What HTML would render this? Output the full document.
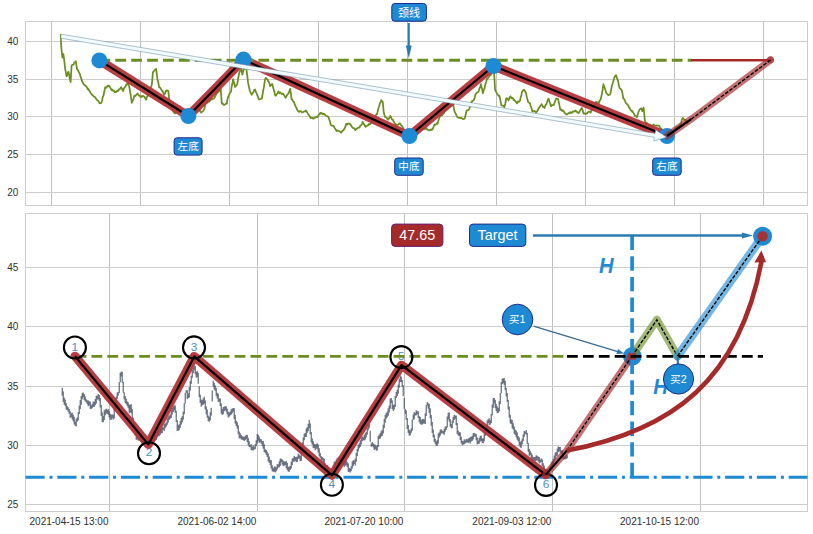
<!DOCTYPE html>
<html><head><meta charset="utf-8"><title>chart</title>
<style>html,body{margin:0;padding:0;background:#fff;overflow:hidden}svg{display:block}</style></head>
<body>
<svg width="813" height="534" viewBox="0 0 813 534" style="display:block">
<rect width="813" height="534" fill="#fff"/>
<g stroke="#cccccc" stroke-width="1" fill="none" shape-rendering="crispEdges">
<line x1="51.5" y1="21.5" x2="51.5" y2="205.3" stroke="#c0c0c0"/>
<line x1="140.5" y1="21.5" x2="140.5" y2="205.3" stroke="#c0c0c0"/>
<line x1="229.6" y1="21.5" x2="229.6" y2="205.3" stroke="#c0c0c0"/>
<line x1="318.6" y1="21.5" x2="318.6" y2="205.3" stroke="#c0c0c0"/>
<line x1="407.6" y1="21.5" x2="407.6" y2="205.3" stroke="#c0c0c0"/>
<line x1="496.6" y1="21.5" x2="496.6" y2="205.3" stroke="#c0c0c0"/>
<line x1="585.7" y1="21.5" x2="585.7" y2="205.3" stroke="#c0c0c0"/>
<line x1="674.7" y1="21.5" x2="674.7" y2="205.3" stroke="#c0c0c0"/>
<line x1="763.7" y1="21.5" x2="763.7" y2="205.3" stroke="#c0c0c0"/>
<line x1="25.5" y1="41.3" x2="807.5" y2="41.3"/>
<line x1="25.5" y1="79.0" x2="807.5" y2="79.0"/>
<line x1="25.5" y1="116.8" x2="807.5" y2="116.8"/>
<line x1="25.5" y1="154.5" x2="807.5" y2="154.5"/>
<line x1="25.5" y1="192.2" x2="807.5" y2="192.2"/>
<rect x="25.5" y="21.5" width="782.0" height="183.8"/>
</g>
<text x="18.4" y="44.9" text-anchor="end" font-family='"Liberation Sans", sans-serif' font-size="10" fill="#303030">40</text>
<text x="18.4" y="82.6" text-anchor="end" font-family='"Liberation Sans", sans-serif' font-size="10" fill="#303030">35</text>
<text x="18.4" y="120.3" text-anchor="end" font-family='"Liberation Sans", sans-serif' font-size="10" fill="#303030">30</text>
<text x="18.4" y="158.1" text-anchor="end" font-family='"Liberation Sans", sans-serif' font-size="10" fill="#303030">25</text>
<text x="18.4" y="195.8" text-anchor="end" font-family='"Liberation Sans", sans-serif' font-size="10" fill="#303030">20</text>
<polyline points="60.7,34.3 61.3,47.2 61.6,50.5 62.4,57.7 62.5,57.6 63.4,54.0 64.3,61.1 64.8,65.5 65.2,69.1 66.1,73.7 66.5,76.1 67.0,75.9 67.9,72.8 68.5,71.8 68.8,72.9 69.7,78.0 70.6,82.1 71.5,67.1 71.6,65.7 72.4,64.8 73.3,64.7 73.7,64.4 74.2,62.7 75.1,62.3 75.7,61.1 76.0,62.7 76.8,67.5 76.9,68.9 77.8,69.9 78.7,71.8 79.6,73.6 79.8,73.7 80.5,76.4 81.4,78.7 81.9,81.1 82.3,81.2 83.2,83.4 84.1,84.8 85.0,85.1 85.9,86.1 86.8,87.1 87.7,89.1 88.1,88.7 88.6,89.8 89.5,90.8 90.4,92.7 91.2,93.8 91.3,93.8 92.2,94.9 93.1,95.5 94.0,96.7 94.9,97.0 95.3,97.6 95.8,98.2 96.7,99.7 97.6,100.5 98.5,101.0 99.4,103.3 100.3,103.2 101.2,102.9 101.5,102.3 102.1,100.4 103.0,96.4 103.5,95.5 103.9,93.4 104.8,89.2 105.2,87.1 105.7,88.0 106.6,87.7 107.5,85.8 108.4,86.3 108.7,85.6 109.3,86.0 110.2,87.4 111.1,89.3 111.8,90.4 112.0,89.3 112.9,90.7 113.8,90.5 114.7,92.2 114.8,91.6 115.6,92.1 116.5,91.8 117.4,90.6 118.3,90.9 119.0,89.5 119.2,89.0 120.1,88.8 121.0,87.1 121.9,88.7 122.8,90.3 123.1,91.1 123.7,89.2 124.6,87.2 125.5,86.7 126.2,84.4 126.4,85.1 127.3,83.9 127.8,82.4 128.2,83.7 129.1,86.3 129.3,87.0 130.0,91.0 130.7,95.1 130.9,96.5 131.8,102.8 131.9,102.8 132.7,100.5 133.6,98.5 134.4,95.6 134.5,95.6 135.4,96.1 136.3,94.8 137.2,94.3 137.5,93.3 138.1,94.5 139.0,95.6 139.9,95.6 140.6,97.2 140.8,97.1 141.7,96.0 142.6,96.5 143.5,96.0 143.7,96.3 144.4,96.7 145.3,98.5 146.2,99.7 146.3,98.8 147.1,96.7 148.0,95.3 148.8,93.6 148.9,92.3 149.8,90.2 150.7,88.0 151.6,85.2 151.9,84.5 152.5,77.0 152.9,72.1 153.4,71.9 154.3,70.4 155.2,69.5 156.0,69.2 156.1,68.8 157.0,75.8 157.4,78.9 157.9,80.7 158.8,84.9 159.1,87.3 159.7,87.2 160.6,88.3 161.5,89.9 162.2,91.2 162.4,90.7 163.3,92.9 164.2,94.8 165.1,93.0 165.7,90.8 166.0,91.4 166.9,90.4 167.8,90.7 168.4,91.1 168.7,94.6 169.4,101.1 169.6,101.4 170.5,103.9 171.0,106.0 171.4,106.4 172.3,109.3 173.2,111.4 174.1,112.4 174.4,113.2 175.0,113.4 175.9,112.3 176.8,111.6 177.7,110.1 178.0,109.4 178.6,110.3 179.5,111.9 180.4,112.1 181.3,113.1 182.0,113.9 182.2,114.0 183.1,114.7 184.0,116.1 184.9,115.7 185.8,116.1 186.0,117.7 186.7,116.9 187.6,116.1 188.5,114.4 189.4,114.3 190.0,113.6 190.3,112.8 191.2,114.3 192.1,115.1 193.0,115.5 193.9,116.0 194.0,115.7 194.8,114.2 195.7,112.2 196.6,110.2 197.5,109.1 198.0,107.7 198.4,109.0 199.3,109.1 200.2,111.5 201.0,112.3 201.1,112.6 202.0,111.8 202.9,111.1 203.8,109.9 204.3,108.7 204.7,107.7 205.3,103.8 205.6,103.7 206.5,103.5 207.4,102.6 208.3,101.7 209.2,101.7 210.1,100.4 211.0,99.3 211.5,98.7 211.9,99.5 212.8,98.6 213.7,98.7 214.5,97.8 214.6,97.3 215.5,95.7 216.4,94.0 216.6,92.5 217.3,92.7 218.2,92.0 219.1,90.9 220.0,90.0 220.7,88.1 220.9,91.6 221.8,103.7 222.7,103.5 223.6,104.7 223.8,105.0 224.5,104.9 225.4,104.1 226.3,103.6 226.9,103.6 227.2,100.9 227.9,97.4 228.1,97.1 229.0,95.0 229.9,92.8 230.8,92.1 231.0,91.4 231.7,86.5 232.6,82.2 233.1,79.2 233.5,80.7 234.4,84.0 235.1,87.0 235.3,86.7 236.2,85.5 237.1,84.3 237.2,84.4 238.0,79.4 238.9,74.7 239.3,72.6 239.8,71.4 240.7,69.6 241.3,68.8 241.6,70.6 242.3,74.6 242.5,74.1 243.4,70.2 244.0,68.7 244.3,68.5 245.2,68.6 246.1,68.9 246.5,69.3 247.0,73.8 247.9,80.8 248.1,82.9 248.8,86.1 249.5,89.4 249.7,90.3 250.6,92.8 251.5,94.1 251.6,94.9 252.4,93.3 253.3,92.3 253.7,91.6 254.2,90.0 255.1,89.4 256.0,92.2 256.7,93.6 256.9,94.4 257.8,96.1 258.7,99.3 258.8,99.3 259.6,99.4 260.5,99.0 261.4,98.5 261.9,98.5 262.3,96.0 263.2,90.5 264.0,86.9 264.1,85.4 265.0,80.1 265.4,78.5 265.9,77.9 266.8,78.8 267.7,79.6 268.1,81.2 268.6,81.4 269.5,83.5 270.1,86.2 270.4,84.8 271.3,85.1 272.2,84.0 273.1,87.4 274.0,90.9 274.2,91.0 274.9,94.6 275.3,95.3 275.8,95.7 276.7,94.2 277.6,93.3 278.4,91.3 278.5,92.3 279.4,93.2 280.0,92.2 280.3,92.7 281.2,93.4 282.1,94.2 283.0,93.6 283.9,94.9 284.8,96.3 285.4,97.8 285.7,97.6 286.6,95.9 287.5,94.6 288.4,93.5 288.5,93.3 289.3,91.4 290.2,88.8 291.1,95.4 291.6,99.4 292.0,99.2 292.9,101.2 293.8,101.8 294.7,104.1 295.6,106.3 296.5,108.2 297.4,110.1 297.8,111.0 298.3,111.3 299.2,111.9 300.1,111.0 301.0,111.2 301.9,112.4 302.8,112.4 303.7,111.6 304.6,111.3 305.5,111.5 306.0,110.5 306.4,111.3 307.3,112.5 308.2,114.5 309.1,115.4 310.0,116.6 310.1,117.5 310.9,118.1 311.8,117.4 312.7,118.3 313.2,118.1 313.6,118.6 314.5,118.0 315.4,117.3 316.3,117.0 317.2,116.5 317.3,117.2 318.1,116.0 319.0,114.5 319.9,113.6 320.4,112.8 320.8,113.6 321.7,112.9 322.6,114.4 323.5,113.8 324.4,114.2 324.5,114.1 325.3,115.2 326.2,115.8 327.1,116.1 328.0,116.7 328.7,117.5 328.9,118.5 329.8,121.0 330.7,124.8 331.6,125.7 332.5,125.6 333.4,125.8 333.8,126.1 334.3,127.5 335.2,128.6 336.1,130.2 336.9,131.1 337.0,130.3 337.9,130.5 338.8,131.0 339.7,131.2 340.6,132.4 341.0,132.7 341.5,132.4 342.4,130.6 343.3,130.7 344.1,129.2 344.2,129.1 345.1,127.4 346.0,124.3 346.2,123.8 346.9,124.7 347.8,123.6 348.7,123.4 349.3,123.5 349.6,124.1 350.5,124.3 351.4,126.0 352.3,127.4 353.2,128.1 354.1,128.2 355.0,129.4 355.4,130.2 355.9,129.1 356.8,128.9 357.7,127.8 358.6,127.6 359.5,127.7 360.4,125.4 361.3,125.1 362.2,123.6 362.6,121.7 363.1,123.6 364.0,124.0 364.9,125.8 365.7,126.9 365.8,126.1 366.7,126.1 367.6,125.4 368.5,125.1 368.8,124.0 369.4,124.4 370.3,124.1 371.2,123.0 371.9,122.4 372.1,121.3 373.0,120.1 373.9,118.1 374.8,116.9 375.0,116.5 375.7,115.6 376.6,114.0 377.0,114.3 377.5,112.3 378.4,108.2 379.1,106.5 379.3,105.6 380.2,102.6 381.1,101.6 381.2,100.2 382.0,101.0 382.8,102.1 382.9,103.1 383.7,112.1 383.8,112.6 384.7,115.7 385.1,116.9 385.6,117.1 386.5,117.5 387.4,119.1 388.2,119.7 388.3,119.2 389.2,118.2 390.1,116.3 390.3,115.8 391.0,117.2 391.9,119.4 392.8,119.6 393.4,121.3 393.7,121.3 394.6,123.3 395.5,123.9 396.4,125.0 396.5,125.3 397.3,124.9 398.2,124.7 399.1,123.5 399.6,123.9 400.0,123.4 400.9,124.8 401.8,125.8 402.7,127.0 403.0,128.4 403.6,129.3 404.5,130.0 405.4,131.5 406.0,132.9 406.3,133.6 407.2,134.3 408.1,134.9 409.0,135.3 409.8,135.2 409.9,135.4 410.8,133.8 411.7,133.0 412.6,131.7 413.0,130.6 413.5,131.0 414.4,132.5 415.3,132.0 416.2,133.9 417.0,134.6 417.1,134.5 418.0,132.6 418.9,131.7 419.8,130.6 420.7,129.6 421.0,129.7 421.6,129.2 422.5,128.6 423.4,129.3 424.3,128.7 425.2,128.8 426.1,128.9 426.3,127.8 427.0,129.4 427.9,129.8 428.8,130.2 429.4,130.6 429.7,130.4 430.6,129.7 431.5,129.9 432.4,128.8 432.5,129.5 433.3,127.7 434.2,125.1 434.5,124.5 435.1,124.9 436.0,124.5 436.9,123.1 437.6,123.8 437.8,123.0 438.7,119.5 439.6,117.3 439.7,116.8 440.5,115.8 441.4,115.6 442.3,115.2 442.8,113.8 443.2,114.1 444.1,112.7 445.0,110.7 445.9,110.7 446.0,110.2 446.8,109.8 447.7,108.6 448.6,107.8 449.0,106.8 449.5,107.1 450.4,106.6 451.3,105.7 452.2,104.4 453.1,104.2 454.0,109.0 454.5,111.4 454.9,112.1 455.8,113.9 456.7,115.8 457.2,116.7 457.6,117.3 458.5,117.8 459.4,117.8 460.3,117.8 461.2,118.4 461.3,117.9 462.1,118.4 463.0,119.2 463.9,119.0 464.4,118.8 464.8,118.3 465.7,114.5 466.5,110.8 466.6,110.7 467.5,110.4 468.4,109.9 469.3,108.7 469.5,108.3 470.2,106.2 471.1,103.9 471.6,101.3 472.0,101.5 472.9,100.7 473.7,100.3 473.8,99.9 474.7,97.5 475.6,94.3 475.7,93.8 476.5,93.1 477.4,92.4 478.3,92.0 478.8,90.8 479.2,89.4 480.1,87.0 480.9,84.2 481.0,85.1 481.9,88.2 482.8,92.9 482.9,93.3 483.7,90.0 484.6,88.4 485.0,85.9 485.5,83.9 486.4,81.2 487.0,78.6 487.3,79.0 488.2,77.7 489.1,76.5 490.0,75.1 490.9,74.8 491.2,73.7 491.8,73.5 492.7,71.6 493.2,71.5 493.6,72.0 494.1,73.6 494.5,79.8 495.1,89.9 495.4,90.3 496.3,92.1 497.2,93.9 498.1,95.2 499.0,96.1 499.3,95.7 499.9,97.9 500.8,102.6 501.3,105.3 501.7,105.5 502.6,105.6 503.5,105.9 504.4,107.1 505.3,103.5 506.2,98.5 506.5,98.3 507.1,98.2 508.0,99.6 508.5,100.3 508.9,99.8 509.8,97.1 510.6,96.3 510.7,96.9 511.6,98.3 512.5,97.9 513.4,99.1 513.7,100.2 514.3,99.7 515.2,101.0 516.1,101.9 516.8,103.1 517.0,103.3 517.9,101.5 518.8,101.8 519.7,101.1 519.8,101.2 520.6,97.7 521.5,94.7 521.9,92.3 522.4,91.6 523.3,90.0 524.0,89.8 524.2,89.8 525.1,91.3 526.0,93.0 526.9,97.4 527.8,100.8 528.1,102.1 528.7,102.2 529.6,103.3 530.1,103.3 530.5,105.5 531.4,107.5 532.2,111.0 532.3,111.4 533.2,111.5 534.1,110.9 535.0,111.3 535.9,112.4 536.3,112.2 536.8,111.7 537.7,110.3 538.6,108.1 539.4,107.5 539.5,107.1 540.4,105.7 541.3,104.8 541.5,104.2 542.2,105.4 543.1,107.1 544.0,106.8 544.5,108.0 544.9,106.5 545.8,104.7 546.6,104.0 546.7,103.2 547.6,100.7 548.5,98.7 548.7,98.9 549.4,101.3 550.3,103.7 550.7,105.5 551.2,106.4 552.1,105.0 553.0,105.2 553.8,104.7 553.9,104.9 554.8,102.1 555.7,99.7 555.9,98.8 556.6,98.5 557.5,98.9 558.3,99.1 558.4,100.7 559.3,104.6 560.0,108.3 560.2,109.8 561.1,109.3 562.0,110.9 562.9,110.2 563.1,110.9 563.8,111.3 564.7,113.1 565.6,113.7 566.2,114.3 566.5,114.4 567.4,114.3 568.3,113.2 569.2,113.3 569.3,113.0 570.1,112.2 571.0,113.0 571.9,112.3 572.3,112.5 572.8,111.4 573.7,111.6 574.6,111.2 575.4,111.3 575.5,110.4 576.4,111.4 577.3,112.3 578.2,112.3 578.5,113.2 579.1,112.4 580.0,110.5 580.9,109.3 581.6,108.1 581.8,108.0 582.7,110.4 583.6,113.6 583.7,112.9 584.5,113.6 585.4,113.7 585.7,114.1 586.3,113.3 587.2,113.5 588.1,112.1 588.8,111.6 589.0,111.8 589.9,111.7 590.8,112.6 590.9,112.1 591.7,110.2 592.6,109.2 592.9,108.5 593.5,107.4 594.4,104.9 595.3,103.6 596.0,101.7 596.2,102.6 597.1,102.8 598.0,102.1 598.9,103.4 599.1,102.3 599.8,100.5 600.7,99.2 601.2,97.3 601.6,95.3 602.5,90.3 603.4,84.2 603.5,84.7 604.3,86.5 605.2,89.5 605.8,91.3 606.1,92.4 607.0,93.9 607.9,94.8 608.2,95.0 608.8,95.0 609.7,94.7 610.3,93.9 610.6,92.3 611.5,88.0 611.9,85.6 612.4,84.3 613.3,81.2 614.0,78.7 614.2,77.7 615.1,76.2 616.0,75.2 616.1,75.3 616.9,77.8 617.8,80.4 618.1,81.0 618.7,84.6 619.6,88.1 620.5,88.8 621.4,89.9 621.6,89.9 622.3,92.9 623.1,97.2 623.2,98.3 624.1,98.9 625.0,100.8 625.7,102.8 625.9,103.1 626.8,103.8 627.7,104.8 628.6,106.2 628.8,107.3 629.5,107.8 630.4,109.7 631.3,110.6 631.9,111.7 632.2,110.8 633.1,112.5 634.0,113.8 634.9,115.9 635.0,116.0 635.8,115.9 636.7,117.1 637.1,116.6 637.6,115.1 638.5,111.8 639.1,110.5 639.4,109.7 640.3,109.1 641.2,108.3 642.1,110.7 642.2,111.2 643.0,108.9 643.6,107.5 643.9,110.7 644.8,119.8 644.9,120.8 645.7,122.3 646.6,123.1 647.0,123.0 647.5,123.9 648.4,124.2 649.3,124.6 650.0,125.0 650.2,124.7 651.1,125.4 652.0,125.5 652.9,125.2 653.5,124.4 653.8,124.7 654.7,125.4 655.6,125.5 656.5,125.5 656.6,125.3 657.4,125.7 658.3,125.5 659.2,125.8 659.7,126.8 660.1,127.8 661.0,128.4 661.8,129.4 661.9,129.4 662.8,131.0 663.7,133.0 664.0,132.9 664.6,134.3 665.5,134.0 666.4,135.1 667.0,136.0 667.3,135.7 668.2,135.7 669.1,135.1 670.0,134.6 670.9,133.3 671.8,131.5 672.7,131.4 673.0,131.1 673.6,130.4 674.5,129.2 675.4,128.9 676.0,128.6 676.3,127.2 677.2,127.5 678.1,126.4 679.0,126.0 679.9,125.1 680.8,123.8 681.3,122.5 681.7,120.2 682.3,118.8 682.6,117.9 683.5,118.7 684.4,119.8 685.3,119.9 686.2,120.7 687.1,122.6 687.5,123.0 688.0,121.7 688.9,121.1 690.0,120.2" fill="none" stroke="#6b8e23" stroke-width="1.75" stroke-linejoin="round"/>
<polyline points="99.4,60.4 188.4,116.0 243.5,59.6 409.4,136.0 493.5,66.0 667.0,136.0" fill="none" stroke="#b5343a" stroke-opacity="0.95" stroke-width="9" stroke-linejoin="round" stroke-linecap="round"/>
<polyline points="99.4,60.4 188.4,116.0 243.5,59.6 409.4,136.0 493.5,66.0 667.0,136.0" fill="none" stroke="#000" stroke-width="2.2" stroke-linejoin="round"/>
<line x1="99.4" y1="60.3" x2="691.5" y2="60.3" stroke="#6b8e23" stroke-width="2.9" stroke-dasharray="10.8 5.1"/>
<line x1="691" y1="60.3" x2="769" y2="60.3" stroke="#a52a2a" stroke-width="2.6"/>
<circle cx="99.4" cy="60.4" r="8" fill="#1f8ad4"/>
<circle cx="188.4" cy="116.0" r="8" fill="#1f8ad4"/>
<circle cx="243.5" cy="59.6" r="8" fill="#1f8ad4"/>
<circle cx="409.4" cy="136.0" r="8" fill="#1f8ad4"/>
<circle cx="493.5" cy="66.0" r="8" fill="#1f8ad4"/>
<circle cx="667.0" cy="136.0" r="8" fill="#1f8ad4"/>
<polyline points="667,136 691.2,119.2 770.5,60" fill="none" stroke="#a52a2a" stroke-opacity="0.66" stroke-width="7" stroke-linecap="round" stroke-linejoin="round"/>
<circle cx="770.5" cy="59.8" r="3.6" fill="#a52a2a" fill-opacity="0.6"/>
<line x1="667" y1="136" x2="691.2" y2="119.2" stroke="#000" stroke-width="2.2"/>
<line x1="691.2" y1="119.2" x2="770.5" y2="60" stroke="#000" stroke-width="1.4" stroke-dasharray="3.7 1.6"/>
<polygon points="60.7,38.2 654.4,137.3 653.8,140.9 666.6,137.3 655.7,129.7 655.1,133.4 61.3,34.2" fill="#f3fafd" stroke="#5a87a0" stroke-width="0.5"/>
<rect x="391.800" y="3.500" width="34.600" height="17.700" rx="3" fill="#1f8ad4" stroke="#1f2a8c" stroke-width="1"/>
<text x="398.100" y="16.680" font-family='"Liberation Sans", "Noto Sans CJK SC", sans-serif' font-size="11" fill="#fff">颈线</text>
<rect x="174.100" y="137.800" width="28.000" height="17.300" rx="3" fill="#1f8ad4" stroke="#1f2a8c" stroke-width="1"/>
<text x="177.600" y="149.630" font-family='"Liberation Sans", "Noto Sans CJK SC", sans-serif' font-size="10.6" fill="#fff">左底</text>
<rect x="394.700" y="158.000" width="28.500" height="17.300" rx="3" fill="#1f8ad4" stroke="#1f2a8c" stroke-width="1"/>
<text x="398.300" y="170.030" font-family='"Liberation Sans", "Noto Sans CJK SC", sans-serif' font-size="10.6" fill="#fff">中底</text>
<rect x="652.700" y="158.000" width="28.500" height="17.300" rx="3" fill="#1f8ad4" stroke="#1f2a8c" stroke-width="1"/>
<text x="656.300" y="170.030" font-family='"Liberation Sans", "Noto Sans CJK SC", sans-serif' font-size="10.6" fill="#fff">右底</text>
<line x1="408.8" y1="23" x2="408.8" y2="47" stroke="#2b7bb0" stroke-width="2"/>
<polygon points="405.9,45.6 411.7,45.6 408.8,58.4" fill="#2b7bb0"/>
<g stroke="#cccccc" stroke-width="1" fill="none" shape-rendering="crispEdges">
<line x1="109.5" y1="213.2" x2="109.5" y2="511.2" stroke="#c0c0c0"/>
<line x1="257.4" y1="213.2" x2="257.4" y2="511.2" stroke="#c0c0c0"/>
<line x1="404.4" y1="213.2" x2="404.4" y2="511.2" stroke="#c0c0c0"/>
<line x1="552.3" y1="213.2" x2="552.3" y2="511.2" stroke="#c0c0c0"/>
<line x1="700.0" y1="213.2" x2="700.0" y2="511.2" stroke="#c0c0c0"/>
<line x1="25.5" y1="267.4" x2="807.5" y2="267.4"/>
<line x1="25.5" y1="326.7" x2="807.5" y2="326.7"/>
<line x1="25.5" y1="386.0" x2="807.5" y2="386.0"/>
<line x1="25.5" y1="445.3" x2="807.5" y2="445.3"/>
<line x1="25.5" y1="504.6" x2="807.5" y2="504.6"/>
<rect x="25.5" y="213.2" width="782.0" height="298.0"/>
</g>
<text x="18.4" y="271.0" text-anchor="end" font-family='"Liberation Sans", sans-serif' font-size="10" fill="#303030">45</text>
<text x="18.4" y="330.3" text-anchor="end" font-family='"Liberation Sans", sans-serif' font-size="10" fill="#303030">40</text>
<text x="18.4" y="389.6" text-anchor="end" font-family='"Liberation Sans", sans-serif' font-size="10" fill="#303030">35</text>
<text x="18.4" y="448.9" text-anchor="end" font-family='"Liberation Sans", sans-serif' font-size="10" fill="#303030">30</text>
<text x="18.4" y="508.2" text-anchor="end" font-family='"Liberation Sans", sans-serif' font-size="10" fill="#303030">25</text>
<text x="108.5" y="525" text-anchor="end" font-family='"Liberation Sans", sans-serif' font-size="10" fill="#303030">2021-04-15 13:00</text>
<text x="256.4" y="525" text-anchor="end" font-family='"Liberation Sans", sans-serif' font-size="10" fill="#303030">2021-06-02 14:00</text>
<text x="403.4" y="525" text-anchor="end" font-family='"Liberation Sans", sans-serif' font-size="10" fill="#303030">2021-07-20 10:00</text>
<text x="551.3" y="525" text-anchor="end" font-family='"Liberation Sans", sans-serif' font-size="10" fill="#303030">2021-09-03 12:00</text>
<text x="699.0" y="525" text-anchor="end" font-family='"Liberation Sans", sans-serif' font-size="10" fill="#303030">2021-10-15 12:00</text>
<path d="M62.20,387.7V395.8M63.20,391.4V401.9M64.20,397.6V404.7M65.20,399.6V406.1M66.20,403.2V409.7M67.20,406.1V409.9M68.20,407.4V411.8M69.20,409.0V413.8M70.20,411.5V417.9M71.20,413.3V417.2M72.20,412.7V419.4M73.20,414.7V421.4M74.20,416.9V424.4M75.20,421.5V426.0M76.20,418.8V426.3M77.20,417.5V421.5M78.20,412.0V420.4M79.20,405.5V414.1M80.20,400.1V409.1M81.20,396.1V404.8M82.20,393.0V399.3M83.20,392.5V397.3M84.20,394.0V400.2M85.20,396.5V401.3M86.20,399.2V402.4M87.20,400.4V404.2M88.20,400.3V406.2M89.20,401.3V405.3M90.20,401.6V408.9M91.20,405.2V408.9M92.20,403.9V408.1M93.20,401.6V406.9M94.20,401.7V407.0M95.20,399.0V405.3M96.20,395.8V403.7M97.20,395.6V399.6M98.20,394.1V399.4M99.20,394.9V400.9M100.20,398.1V407.6M101.20,405.0V416.0M102.20,412.4V422.0M103.20,416.1V422.3M104.20,410.3V420.0M105.20,409.4V415.3M106.20,408.6V413.5M107.20,409.9V413.8M108.20,408.8V414.7M109.20,411.1V417.3M110.20,413.8V419.7M111.20,414.7V419.8M112.20,414.4V418.2M113.20,414.8V419.7M114.20,407.5V418.5M115.20,403.2V410.9M116.20,396.5V405.7M117.20,392.6V398.8M118.20,391.8V395.6M119.20,382.1V393.1M120.20,372.8V382.3M121.20,371.6V376.5M122.20,371.9V382.7M123.20,381.8V392.8M124.20,392.3V399.4M125.20,396.0V403.1M126.20,398.7V404.2M127.20,401.4V406.1M128.20,402.3V408.3M129.20,404.6V413.2M130.20,404.9V412.3M131.20,404.1V413.3M132.20,409.1V420.1M133.20,417.7V426.6M134.20,423.1V431.7M135.20,428.8V435.5M136.20,431.5V439.9M137.20,435.8V439.4M138.20,436.9V440.7M139.20,437.5V440.0M140.20,436.2V440.8M141.20,437.2V441.8M142.20,439.2V443.9M143.20,439.4V442.7M144.20,438.7V444.1M145.20,438.5V444.9M146.20,438.6V442.9M147.20,438.8V444.0M148.20,441.1V444.4M149.20,438.1V445.3M150.20,439.5V443.4M151.20,438.7V443.4M152.20,437.5V441.8M153.20,437.9V441.6M154.20,436.2V441.6M155.20,435.2V440.5M156.20,435.0V440.0M157.20,431.8V437.5M158.20,433.4V436.2M159.20,430.9V436.2M160.20,429.6V434.8M161.20,428.4V433.3M162.20,427.1V433.2M163.20,427.6V430.0M164.20,423.9V431.1M165.20,423.4V428.2M166.20,422.4V426.7M167.20,418.2V424.8M168.20,416.3V422.6M169.20,415.4V419.9M170.20,414.3V418.7M171.20,409.9V418.0M172.20,408.0V414.5M173.20,406.5V412.0M174.20,405.3V410.4M175.20,405.5V412.8M176.20,410.9V421.9M177.20,420.1V431.1M178.20,424.9V430.8M179.20,424.3V429.8M180.20,421.1V427.8M181.20,417.9V424.6M182.20,416.2V422.3M183.20,411.7V419.7M184.20,403.2V414.2M185.20,392.7V403.7M186.20,390.3V392.8M187.20,390.2V399.2M188.20,393.4V398.2M189.20,387.2V397.5M190.20,381.0V390.7M191.20,375.7V383.9M192.20,369.9V377.8M193.20,367.7V373.3M194.20,365.4V370.2M195.20,366.2V374.3M196.20,371.8V377.6M197.20,371.0V377.2M198.20,372.7V383.7M199.20,386.2V397.2M200.20,394.6V403.0M201.20,399.6V406.7M202.20,400.1V405.2M203.20,398.2V404.6M204.20,396.7V403.7M205.20,400.3V409.6M206.20,406.4V414.4M207.20,409.5V417.7M208.20,415.6V421.1M209.20,416.9V421.7M210.20,412.3V420.5M211.20,407.8V415.6M212.20,390.5V401.5M213.20,380.7V386.7M214.20,382.8V389.5M215.20,385.4V390.8M216.20,387.8V395.9M217.20,392.8V398.6M218.20,393.7V401.9M219.20,398.5V402.0M220.20,398.4V406.0M221.20,403.3V413.5M222.20,409.1V414.8M223.20,407.1V414.2M224.20,406.7V411.3M225.20,406.2V410.1M226.20,406.4V411.8M227.20,408.7V414.6M228.20,411.7V417.6M229.20,412.5V416.6M230.20,411.4V415.4M231.20,409.3V414.6M232.20,408.5V413.2M233.20,408.1V411.6M234.20,408.2V419.2M235.20,414.9V423.7M236.20,420.8V426.0M237.20,422.2V428.6M238.20,425.4V434.1M239.20,431.5V438.4M240.20,433.2V438.2M241.20,435.0V439.4M242.20,436.3V439.9M243.20,436.5V440.1M244.20,437.0V441.0M245.20,435.9V440.1M246.20,434.9V439.0M247.20,434.9V442.0M248.20,437.8V445.2M249.20,441.2V447.0M250.20,444.9V447.3M251.20,444.1V450.2M252.20,446.8V450.2M253.20,445.2V450.6M254.20,446.7V449.4M255.20,444.2V449.2M256.20,440.3V446.3M257.20,434.0V443.5M258.20,434.8V440.9M259.20,436.5V442.9M260.20,438.9V442.2M261.20,439.2V443.5M262.20,441.1V445.9M263.20,440.9V448.7M264.20,444.2V452.0M265.20,449.2V452.9M266.20,450.0V454.8M267.20,451.7V456.9M268.20,453.5V461.4M269.20,456.5V462.9M270.20,459.8V465.1M271.20,460.2V468.7M272.20,465.3V471.3M273.20,468.2V471.7M274.20,466.6V471.9M275.20,466.5V472.5M276.20,467.1V471.4M277.20,464.2V469.5M278.20,464.3V467.5M279.20,461.4V467.4M280.20,458.7V466.0M281.20,458.6V462.2M282.20,459.4V464.6M283.20,460.7V466.1M284.20,461.6V465.6M285.20,461.7V465.0M286.20,461.0V468.1M287.20,462.8V470.0M288.20,467.0V471.6M289.20,466.5V471.8M290.20,466.0V469.9M291.20,461.7V468.5M292.20,458.6V465.1M293.20,457.9V461.7M294.20,456.0V461.7M295.20,456.9V460.7M296.20,457.1V462.2M297.20,456.5V461.9M298.20,453.6V458.9M299.20,454.8V458.7M300.20,455.9V461.2M301.20,450.6V460.8M302.20,442.3V453.3M303.20,437.4V444.9M304.20,433.7V440.3M305.20,432.9V436.9M306.20,428.6V437.0M307.20,427.3V432.9M308.20,423.8V431.2M309.20,419.9V428.2M310.20,423.4V434.4M311.20,432.1V442.5M312.20,438.4V444.7M313.20,441.1V448.2M314.20,443.8V448.1M315.20,444.5V450.2M316.20,444.0V448.5M317.20,443.2V449.4M318.20,444.5V452.6M319.20,448.3V456.4M320.20,453.0V458.1M321.20,456.2V460.5M322.20,457.0V460.4M323.20,457.9V462.8M324.20,458.7V466.1M325.20,463.4V469.1M326.20,466.2V468.7M327.20,465.1V472.1M328.20,467.2V472.5M329.20,468.3V472.7M330.20,469.1V474.3M331.20,470.0V475.9M332.20,468.4V475.7M333.20,465.3V471.3M334.20,461.6V467.2M335.20,461.9V465.7M336.20,459.7V464.1M337.20,457.8V463.6M338.20,458.2V461.9M339.20,456.5V460.7M340.20,457.6V463.2M341.20,459.1V464.4M342.20,459.3V465.4M343.20,460.2V465.0M344.20,462.4V467.1M345.20,460.8V465.6M346.20,460.9V465.4M347.20,462.1V467.1M348.20,463.4V471.8M349.20,467.8V471.8M350.20,468.6V472.6M351.20,466.2V471.1M352.20,461.4V468.6M353.20,460.2V466.2M354.20,460.6V464.0M355.20,458.7V465.6M356.20,452.9V461.8M357.20,449.0V456.0M358.20,444.8V451.4M359.20,443.4V448.3M360.20,440.3V447.0M361.20,437.5V444.5M362.20,436.3V441.1M363.20,437.2V440.3M364.20,434.9V440.6M365.20,433.3V439.6M366.20,431.9V437.4M367.20,427.8V434.7M368.20,425.0V430.4M369.20,424.0V428.2M370.20,430.8V441.8M371.20,443.3V446.8M372.20,442.0V446.0M373.20,443.4V447.4M374.20,444.3V450.0M375.20,444.7V449.1M376.20,446.2V450.6M377.20,445.0V450.6M378.20,436.0V447.0M379.20,434.7V439.1M380.20,433.1V438.7M381.20,431.2V436.5M382.20,429.8V436.0M383.20,424.7V433.5M384.20,418.9V428.0M385.20,415.0V422.7M386.20,413.0V418.7M387.20,411.6V417.4M388.20,408.3V415.7M389.20,405.5V412.5M390.20,398.6V408.7M391.20,398.0V403.1M392.20,400.3V409.0M393.20,404.8V411.1M394.20,404.5V409.6M395.20,396.0V407.0M396.20,392.0V398.0M397.20,389.7V396.1M398.20,384.7V393.7M399.20,378.8V387.6M400.20,375.3V382.0M401.20,376.6V382.2M402.20,379.9V386.8M403.20,385.2V396.2M404.20,397.9V408.9M405.20,408.9V414.0M406.20,410.4V419.9M407.20,418.0V429.0M408.20,424.9V433.1M409.20,429.8V435.7M410.20,430.4V435.3M411.20,428.4V432.8M412.20,419.7V430.7M413.20,414.4V419.9M414.20,412.0V419.4M415.20,412.9V415.5M416.20,410.2V415.3M417.20,411.2V414.3M418.20,411.2V417.9M419.20,416.1V422.2M420.20,417.1V423.8M421.20,420.3V424.7M422.20,418.9V424.6M423.20,419.1V423.6M424.20,419.4V423.5M425.20,413.4V424.0M426.20,405.0V416.0M427.20,402.0V405.6M428.20,403.2V408.7M429.20,404.0V412.8M430.20,408.3V418.4M431.20,415.1V425.8M432.20,421.9V432.9M433.20,429.5V437.4M434.20,434.7V441.9M435.20,438.9V443.9M436.20,441.4V445.9M437.20,440.1V445.9M438.20,433.6V443.7M439.20,432.3V437.6M440.20,429.8V435.7M441.20,429.2V433.5M442.20,430.6V433.3M443.20,431.0V433.8M444.20,428.7V434.8M445.20,426.5V431.6M446.20,426.4V429.8M447.20,416.5V427.5M448.20,412.8V419.4M449.20,412.5V421.5M450.20,419.2V426.6M451.20,424.0V428.4M452.20,420.5V428.1M453.20,416.9V422.9M454.20,414.8V420.0M455.20,415.5V418.7M456.20,415.6V425.2M457.20,423.0V434.0M458.20,430.6V435.6M459.20,432.3V435.9M460.20,432.3V440.0M461.20,436.8V443.3M462.20,440.8V445.2M463.20,441.3V444.6M464.20,439.3V444.2M465.20,440.4V443.3M466.20,438.9V442.7M467.20,439.3V442.4M468.20,438.5V443.0M469.20,437.9V442.3M470.20,437.1V443.5M471.20,436.7V441.4M472.20,435.8V440.9M473.20,433.2V439.5M474.20,433.1V436.7M475.20,433.5V436.7M476.20,434.2V440.3M477.20,437.3V444.5M478.20,440.6V443.8M479.20,437.9V443.7M480.20,435.8V441.6M481.20,435.7V441.0M482.20,438.5V443.0M483.20,438.1V443.3M484.20,432.8V441.2M485.20,428.6V435.8M486.20,425.6V432.3M487.20,420.3V428.8M488.20,419.3V423.0M489.20,418.2V425.0M490.20,420.2V424.6M491.20,413.9V423.1M492.20,404.4V415.4M493.20,397.9V407.8M494.20,398.0V403.5M495.20,399.8V408.2M496.20,403.9V411.0M497.20,406.4V413.2M498.20,407.9V412.9M499.20,401.2V411.6M500.20,393.0V404.0M501.20,382.2V393.2M502.20,378.7V384.1M503.20,378.3V383.2M504.20,378.0V385.0M505.20,380.8V390.2M506.20,387.9V396.4M507.20,393.0V401.9M508.20,399.9V409.6M509.20,406.6V417.6M510.20,415.0V423.4M511.20,419.4V424.1M512.20,420.1V428.4M513.20,423.2V429.5M514.20,426.6V433.7M515.20,429.7V435.0M516.20,430.6V437.3M517.20,432.4V439.7M518.20,436.1V441.3M519.20,437.5V445.5M520.20,442.0V447.4M521.20,440.7V447.9M522.20,438.7V444.3M523.20,434.3V441.1M524.20,431.0V436.8M525.20,431.5V433.8M526.20,430.0V434.7M527.20,432.9V443.9M528.20,442.8V451.8M529.20,449.0V455.9M530.20,450.8V454.9M531.20,452.7V458.9M532.20,454.7V460.8M533.20,456.9V460.6M534.20,457.0V460.8M535.20,456.8V461.5M536.20,455.3V460.7M537.20,455.8V460.4M538.20,456.6V461.6M539.20,457.1V463.4M540.20,459.7V462.6M541.20,458.4V462.0M542.20,459.4V466.0M543.20,463.2V471.1M544.20,465.6V472.0M545.20,468.8V473.9M546.20,469.7V473.8M547.20,468.8V474.5M548.20,469.4V473.7M549.20,467.4V471.2M550.20,465.4V470.7M551.20,462.4V467.9M552.20,461.0V466.0M553.20,458.8V464.2M554.20,455.5V462.1M555.20,452.5V459.5M556.20,452.1V456.5M557.20,448.5V455.8M558.20,446.4V452.2M559.20,447.0V451.3M560.20,447.0V452.8M561.20,450.5V453.6M562.20,450.0V457.5M563.20,454.4V459.4M564.20,456.9V459.2M565.20,455.7V459.4M566.20,454.4V459.0M567.20,455.2V458.2" stroke="#414c60" stroke-width="1.0" fill="none"/>
<line x1="25.5" y1="477.3" x2="807.5" y2="477.3" stroke="#1f8ad4" stroke-width="3" stroke-dasharray="19.2 4.8 3 4.8"/>
<text x="74.9" y="350.7" text-anchor="middle" font-family='"Liberation Sans", sans-serif' font-size="11.8" fill="#4a90c6">1</text>
<text x="149.0" y="456.4" text-anchor="middle" font-family='"Liberation Sans", sans-serif' font-size="11.8" fill="#4a90c6">2</text>
<text x="194.0" y="350.6" text-anchor="middle" font-family='"Liberation Sans", sans-serif' font-size="11.8" fill="#4a90c6">3</text>
<text x="331.9" y="488.0" text-anchor="middle" font-family='"Liberation Sans", sans-serif' font-size="11.8" fill="#4a90c6">4</text>
<text x="401.4" y="360.3" text-anchor="middle" font-family='"Liberation Sans", sans-serif' font-size="11.8" fill="#4a90c6">5</text>
<text x="546.0" y="488.1" text-anchor="middle" font-family='"Liberation Sans", sans-serif' font-size="11.8" fill="#4a90c6">6</text>
<line x1="75.6" y1="356.4" x2="567" y2="356.4" stroke="#6b8e23" stroke-width="2.9" stroke-dasharray="10.8 5.1"/>
<polyline points="75.0,356.2 148.3,444.4 194.3,356.4 332.1,475.4 401.5,365.2 545.8,474.8" fill="none" stroke="#b5343a" stroke-opacity="0.95" stroke-width="9" stroke-linejoin="round" stroke-linecap="round"/>
<polyline points="75.0,356.2 148.3,444.4 194.3,356.4 332.1,475.4 401.5,365.2 545.8,474.8" fill="none" stroke="#000" stroke-width="2.2" stroke-linejoin="round"/>
<circle cx="74.9" cy="347.5" r="11" fill="none" stroke="#000" stroke-width="2.1"/>
<circle cx="149.0" cy="453.2" r="11" fill="none" stroke="#000" stroke-width="2.1"/>
<circle cx="194.0" cy="347.4" r="11" fill="none" stroke="#000" stroke-width="2.1"/>
<circle cx="331.9" cy="484.8" r="11" fill="none" stroke="#000" stroke-width="2.1"/>
<circle cx="401.4" cy="357.1" r="11" fill="none" stroke="#000" stroke-width="2.1"/>
<circle cx="546.0" cy="484.9" r="11" fill="none" stroke="#000" stroke-width="2.1"/>
<text transform="translate(606.3,272.9) scale(0.93,1)" text-anchor="middle" font-family='"Liberation Sans", sans-serif' font-size="21.7" font-weight="bold" font-style="italic" fill="#1f8ad4">H</text>
<text transform="translate(660.5,394.1) scale(0.93,1)" text-anchor="middle" font-family='"Liberation Sans", sans-serif' font-size="21.7" font-weight="bold" font-style="italic" fill="#1f8ad4">H</text>
<circle cx="632.3" cy="356.3" r="9.3" fill="#1f8ad4"/>
<circle cx="762.6" cy="236.2" r="9.500" fill="#1f8ad4"/>
<polyline points="631.9,356.3 656.9,319.8 677.5,356.3" fill="none" stroke="#6b8e23" stroke-opacity="0.62" stroke-width="8" stroke-linejoin="round" stroke-linecap="round"/>
<polyline points="631.9,356.3 656.9,319.8 677.5,356.3" fill="none" stroke="#000" stroke-width="1.4" stroke-dasharray="3.7 1.6"/>
<line x1="677.5" y1="356.2" x2="762.6" y2="236.2" stroke="#1f8ad4" stroke-opacity="0.62" stroke-width="8.5" stroke-linecap="round"/>
<line x1="677.5" y1="356.2" x2="762.6" y2="236.2" stroke="#000" stroke-width="1.4" stroke-dasharray="3.7 1.6"/>
<circle cx="762.6" cy="236.2" r="5.2" fill="#ad2f2c" fill-opacity="0.95"/>
<polyline points="545.8,474.6 566.8,450.6 631.9,356.3" fill="none" stroke="#a52a2a" stroke-opacity="0.66" stroke-width="7.2" stroke-linecap="round" stroke-linejoin="round"/>
<line x1="545.8" y1="474.6" x2="566.8" y2="450.6" stroke="#000" stroke-width="2.2"/>
<line x1="566.8" y1="450.6" x2="631.9" y2="356.3" stroke="#000" stroke-width="1.4" stroke-dasharray="3.7 1.6"/>
<circle cx="631.9" cy="356.3" r="4.8" fill="#ad2f2c" fill-opacity="0.9"/>
<line x1="632.1" y1="235.6" x2="632.1" y2="477.3" stroke="#1f8ad4" stroke-width="3.7" stroke-dasharray="14.42 6.24"/>
<line x1="567" y1="356.4" x2="763" y2="356.4" stroke="#000" stroke-width="2.9" stroke-dasharray="10.8 5.1"/>
<path d="M566.8,450.6 C673.4,430.2 739.0,379.7 761.5,261.5" fill="none" stroke="#a52a2a" stroke-width="4.6"/>
<polygon points="761.4,250.5 754.4,262.6 766.1,262.2" fill="#a52a2a"/>
<line x1="533" y1="235.5" x2="744" y2="235.5" stroke="#2b7bb0" stroke-width="2.4"/>
<polygon points="742,232.5 742,238.5 753,235.5" fill="#2b7bb0"/>
<line x1="533.5" y1="326.1" x2="618.5" y2="351.8" stroke="#3a6a90" stroke-width="1.4"/>
<polygon points="624.0,353.5 616.4,354.1 618.0,348.9" fill="#2f73a6"/>
<line x1="677.6" y1="357" x2="677.9" y2="364.5" stroke="#2b7bb0" stroke-width="2.2"/>
<rect x="391.600" y="224.100" width="51.300" height="22.300" rx="3.500" fill="#a52a2a" stroke="#6a1f78" stroke-width="1"/>
<text x="417.2" y="240" text-anchor="middle" font-family='"Liberation Sans", sans-serif' font-size="14.4" fill="#fff">47.65</text>
<rect x="469.500" y="224.100" width="56.300" height="22.300" rx="3.500" fill="#1f8ad4" stroke="#1f2a8c" stroke-width="1"/>
<text x="497.6" y="240" text-anchor="middle" font-family='"Liberation Sans", sans-serif' font-size="14.4" fill="#fff">Target</text>
<circle cx="517.5" cy="319.5" r="15.300" fill="#1f8ad4" stroke="#1f2a8c" stroke-width="1"/>
<text x="508.680" y="323.070" font-family='"Liberation Sans", "Noto Sans CJK SC", sans-serif' font-size="10.7" fill="#fff">买</text>
<text x="519.38" y="322.85" font-family='"Liberation Sans", sans-serif' font-size="10.7" fill="#fff">1</text>
<circle cx="678.5" cy="379.0" r="15.100" fill="#1f8ad4" stroke="#1f2a8c" stroke-width="1"/>
<text x="669.980" y="382.870" font-family='"Liberation Sans", "Noto Sans CJK SC", sans-serif' font-size="10.7" fill="#fff">买</text>
<text x="680.68" y="382.65" font-family='"Liberation Sans", sans-serif' font-size="10.7" fill="#fff">2</text>
</svg>
</body></html>
